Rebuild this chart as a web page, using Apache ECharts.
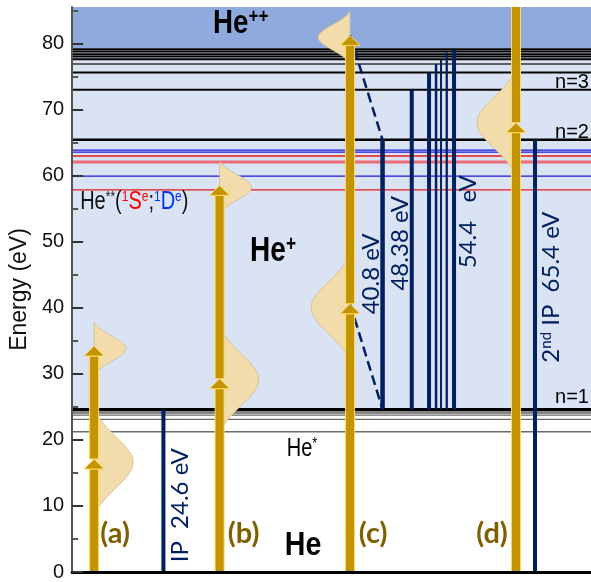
<!DOCTYPE html>
<html>
<head>
<meta charset="utf-8">
<script src="https://cdn.jsdelivr.net/npm/echarts@6/dist/echarts.min.js"></script>
<style>
  html, body { margin: 0; padding: 0; background: #fff; }
  #chart { width: 591px; height: 582px; }
</style>
</head>
<body>
<div id="chart"></div>
<script>
// ---- Energy data (eV, measured from the He ground state) ----
const energyTicks = [0, 10, 20, 30, 40, 50, 60, 70, 80];
// He* singly excited 1P levels below the first ionisation threshold
const heStarLevels = [21.22, 23.09, 23.74, 24.05, 24.21];
// He+ (n) thresholds, converging on the He++ limit
const hePlusLevels = [24.6, 65.4, 72.98, 75.6, 76.86, 77.6, 78.0, 78.35, 78.75, 79.1];
// Doubly excited He** resonances: 1Se (red) and 1De (blue)
const resonanceS = [57.84, 62.06, 62.95];
const resonanceD = [59.9, 63.55, 63.85];
// Onset of the He++ continuum
const doubleIonisation = 79.3;
// Vertical transitions: lower and upper energies
const transitionFrom = [0, 24.6, 24.6, 24.6, 24.6, 24.6, 24.6, 24.6, 0];
const transitionTo   = [24.6, 65.4, 72.98, 75.6, 76.86, 77.47, 78.6, 79.0, 65.4];
// Excitation schemes (a)-(d): photon energy and spectral profile centres
const schemeNames = ['(a)', '(b)', '(c)', '(d)'];
const photonEnergy = [17.1, 29.25, 40.6, 68.0];
const oneHarmonicCentre = [16.6, 29.1, 40.0, 68.0];
const twoHarmonicCentre = [33.8, 58.2, 80.9];
const oneHarmonicWidth = 3.9;
const twoHarmonicWidth = 1.9;

// ---- Layout of the diagram (horizontal units span the plot width) ----
const X_MAX = 519;
const Y_MAX = 85.5;
const schemeX = [22, 147.5, 278, 444];
const profileSide = [1, 1, -1, -1];
const profileAmp = [39, 32];
const transitionX = [91.3, 310.5, 339.7, 357, 364, 369, 374.7, 382, 463];
const transitionWidth = [4, 4.5, 4, 4, 2.5, 2, 2.3, 4, 4];

const GOLD = '#c39400', GOLD_EDGE = '#ffd966', NAVY = '#002060';
const SANS = "'Liberation Sans', Arial, sans-serif";
const HUMAN = "Lato, 'Open Sans', sans-serif";

function hLine(api, e, color, width) {
  const a = api.coord([0, e]), b = api.coord([X_MAX, e]);
  return { type: 'line', shape: { x1: a[0], y1: a[1], x2: b[0], y2: b[1] },
           style: { stroke: color, lineWidth: width } };
}

function arrow(api, x, e0, e1) {
  const p0 = api.coord([x, e0]), p1 = api.coord([x, e1]);
  const headLen = 10, headHalf = 10, shaftHalf = 4.5;
  const yBase = p1[1] + headLen;
  const st = { fill: GOLD, stroke: GOLD_EDGE, lineWidth: 1 };
  return [
    { type: 'rect', shape: { x: p0[0] - shaftHalf, y: yBase, width: 2 * shaftHalf, height: p0[1] - yBase }, style: st },
    { type: 'polygon', shape: { points: [[p1[0] - headHalf, yBase], [p1[0], p1[1]], [p1[0] + headHalf, yBase]] }, style: st }
  ];
}

const profileData = [];
oneHarmonicCentre.forEach((c, i) => profileData.push([i, c, 1]));
twoHarmonicCentre.forEach((c, i) => profileData.push([i, c, 2]));

const option = {
  animation: false,
  grid: { left: 72, right: 0, top: 7, bottom: 5 },
  xAxis: {
    type: 'value', min: 0, max: X_MAX, z: 10,
    axisLine: { show: true, onZero: false, lineStyle: { color: '#000', width: 3 } },
    axisTick: { show: false }, axisLabel: { show: false }, splitLine: { show: false }
  },
  yAxis: {
    type: 'value', min: 0, max: Y_MAX, interval: 10, z: 10,
    name: 'Energy (eV)', nameLocation: 'middle', nameGap: 33, nameRotate: 90,
    nameTextStyle: { fontSize: 23, color: '#111', fontFamily: SANS },
    axisLine: { show: true, lineStyle: { color: '#555', width: 2 } },
    axisTick: { show: true, inside: true, length: 11, customValues: energyTicks,
                lineStyle: { color: '#333', width: 2 } },
    minorTick: { show: true, splitNumber: 2, length: 6, lineStyle: { color: '#555', width: 2 } },
    axisLabel: { customValues: energyTicks, fontSize: 20, color: '#111', margin: 8, fontFamily: SANS },
    splitLine: { show: false }
  },
  series: [
    { // bound He+ region and He++ continuum
      type: 'custom', name: 'regions', silent: true, z: 1,
      data: [[0, 0]],
      renderItem(params, api) {
        const a = api.coord([0, doubleIonisation]), b = api.coord([X_MAX, hePlusLevels[0]]);
        const c = api.coord([0, Y_MAX]);
        return { type: 'group', children: [
          { type: 'rect', shape: { x: a[0], y: a[1], width: b[0] - a[0], height: b[1] - a[1] }, style: { fill: '#dae3f3' } },
          { type: 'rect', shape: { x: c[0], y: c[1], width: b[0] - c[0], height: a[1] - c[1] }, style: { fill: '#8faadc' } }
        ] };
      }
    },
    { type: 'custom', name: 'He*', silent: true, z: 2,
      data: heStarLevels.map(e => [0, e]),
      renderItem: (p, api) => hLine(api, api.value(1), '#6a6a6a', 1.3) },
    { type: 'custom', name: '1Se', silent: true, z: 2,
      data: resonanceS.map(e => [0, e]),
      renderItem: (p, api) => p.dataIndex === 1 ? hLine(api, api.value(1), '#ee6b78', 3) : hLine(api, api.value(1), '#e41a1a', 1.3) },
    { type: 'custom', name: '1De', silent: true, z: 2,
      data: resonanceD.map(e => [0, e]),
      renderItem: (p, api) => hLine(api, api.value(1), '#1a1ae0', 1.3) },
    { type: 'custom', name: 'He+', silent: true, z: 2,
      data: hePlusLevels.map(e => [0, e]),
      renderItem: (p, api) => {
        const i = p.dataIndex;
        const w = i === 0 ? 3 : (i === 1 ? 2.5 : (i === 4 ? 1.5 : 2));
        return hLine(api, api.value(1), i === 4 ? '#333' : '#000', w);
      } },
    { // spectral profiles of the driving pulses
      type: 'custom', name: 'profiles', silent: true, z: 3,
      data: profileData,
      renderItem(p, api) {
        const i = api.value(0), centre = api.value(1), h = api.value(2);
        const sigma = h === 1 ? oneHarmonicWidth : twoHarmonicWidth;
        const amp = profileAmp[h - 1] * profileSide[i];
        const half = 2.1 * sigma;
        const g0 = Math.exp(-half * half / (2 * sigma * sigma));
        const pts = [];
        for (let k = 0; k <= 80; k++) {
          const e = centre - half + 2 * half * k / 80;
          const g = Math.exp(-(e - centre) * (e - centre) / (2 * sigma * sigma));
          pts.push(api.coord([schemeX[i] + amp * (g - g0) / (1 - g0), e]));
        }
        return { type: 'polygon', shape: { points: pts }, style: { fill: '#f2dcab', stroke: '#c9b48e', lineWidth: 0.7 } };
      } },
    { // ionisation / excitation transitions
      type: 'custom', name: 'transitions', silent: true, z: 4,
      data: transitionFrom.map((f, i) => [i, f, transitionTo[i]]),
      renderItem(p, api) {
        const i = api.value(0);
        const a = api.coord([transitionX[i], api.value(1)]), b = api.coord([transitionX[i], api.value(2)]);
        return { type: 'line', shape: { x1: a[0], y1: a[1], x2: b[0], y2: b[1] },
                 style: { stroke: NAVY, lineWidth: transitionWidth[i] } };
      } },
    { // energy-sharing connectors for scheme (c)
      type: 'custom', name: 'connectors', silent: true, z: 4,
      data: [[photonEnergy[2], transitionFrom[1]], [2 * photonEnergy[2], transitionTo[1]]],
      renderItem(p, api) {
        const a = api.coord([schemeX[2], api.value(0)]), b = api.coord([transitionX[1], api.value(1)]);
        return { type: 'line', shape: { x1: a[0], y1: a[1], x2: b[0], y2: b[1] },
                 style: { stroke: NAVY, lineWidth: 2.5, lineDash: [10, 5] } };
      } },
    { // photon arrows: one- and two-photon steps
      type: 'custom', name: 'photons', silent: true, z: 5, clip: true,
      data: photonEnergy.map((e, i) => [i, e]),
      renderItem(p, api) {
        const i = api.value(0), e = api.value(1), x = schemeX[i];
        return { type: 'group', children: arrow(api, x, 0, e).concat(arrow(api, x, e, 2 * e)) };
      } },
    { // text annotations
      type: 'custom', name: 'labels', silent: true, z: 6,
      data: [[0, 0]],
      renderItem(p, api) {
        const kids = [];
        const txt = (x, e, style, extra) => {
          const c = api.coord([x, e]);
          kids.push(Object.assign({ type: 'text', x: c[0], y: c[1], style }, extra || {}));
        };
        const labelX = [43, 171.5, 301, 420];
        schemeNames.forEach((s, i) => txt(labelX[i], 5.85, {
          text: s, fontFamily: HUMAN, fontWeight: 'bold', fontSize: 29, fill: '#7f6000',
          align: 'center', verticalAlign: 'middle' }));
        const narrow = { scaleX: 0.84 };
        const boldRich = (size) => ({
          h: { fontFamily: SANS, fontWeight: 'bold', fontSize: size, fill: '#000' },
          p: { fontFamily: SANS, fontWeight: 'bold', fontSize: size * 0.62, fill: '#000', verticalAlign: 'top' }
        });
        txt(141, 83.0, { text: '{h|He}{p|++}', rich: boldRich(33), align: 'left', verticalAlign: 'middle' }, narrow);
        txt(178, 48.45, { text: '{h|He}{p|+}', rich: boldRich(35), align: 'left', verticalAlign: 'middle' }, { scaleX: 0.8 });
        txt(231, 3.93, { text: 'He', fontFamily: SANS, fontWeight: 'bold', fontSize: 34, fill: '#000',
                         align: 'center', verticalAlign: 'middle' }, narrow);
        const thin = { scaleX: 0.8 };
        txt(214.7, 18.6, { text: '{n|He}{s|*}', align: 'left', verticalAlign: 'middle', rich: {
          n: { fontFamily: SANS, fontSize: 25, fill: '#000' },
          s: { fontFamily: SANS, fontSize: 16, fill: '#000', verticalAlign: 'top' } } }, thin);
        txt(8, 56.05, {
          text: '{n|He}{s|**}{n|(}{rs|1}{r|S}{rs|e}{n|;}{bs|1}{b|D}{bs|e}{n|)}',
          align: 'left', verticalAlign: 'middle', rich: {
            n: { fontFamily: SANS, fontSize: 25, fill: '#111' },
            s: { fontFamily: SANS, fontSize: 15, fill: '#111', verticalAlign: 'top' },
            r: { fontFamily: SANS, fontSize: 25, fill: '#ff0000' },
            rs: { fontFamily: SANS, fontSize: 15, fill: '#ff0000', verticalAlign: 'top' },
            b: { fontFamily: SANS, fontSize: 25, fill: '#0033ff' },
            bs: { fontFamily: SANS, fontSize: 15, fill: '#0033ff', verticalAlign: 'top' } } }, thin);
        // He+ principal quantum number labels
        const nLevel = [hePlusLevels[0], hePlusLevels[1], hePlusLevels[2]];
        const nShift = [-2, 3, 3];
        nLevel.forEach((e, k) => {
          const c = api.coord([483, e]);
          kids.push({ type: 'text', x: c[0], y: c[1] + nShift[k], style: {
            text: 'n=' + (k + 1), fontFamily: SANS, fontSize: 20, fill: '#000',
            align: 'left', verticalAlign: 'bottom' } });
        });
        // transition energies, written along the lines
        const rot = { rotation: Math.PI / 2 };
        const navy = (t) => ({ text: t, fontFamily: HUMAN, fontSize: 24, fill: NAVY,
                               align: 'center', verticalAlign: 'middle' });
        txt(108, 10.1, navy('IP  ' + transitionTo[0] + ' eV'), rot);
        txt(299.5, 45.1, navy((transitionTo[1] - transitionFrom[1]).toFixed(1) + ' eV'), rot);
        txt(328, 49.75, navy((transitionTo[2] - transitionFrom[2]).toFixed(2) + ' eV'), rot);
        txt(396, 53.0, navy((transitionTo[7] - transitionFrom[7]).toFixed(1) + '   eV'), rot);
        txt(479, 43.1, { text: '{t|2}{s|nd}{t| IP  ' + transitionTo[8] + ' eV}', align: 'center', verticalAlign: 'middle',
          rich: { t: { fontFamily: HUMAN, fontSize: 24, fill: NAVY },
                  s: { fontFamily: HUMAN, fontSize: 15, fill: NAVY, verticalAlign: 'top' } } }, rot);
        return { type: 'group', children: kids };
      } }
  ]
};

const chart = echarts.init(document.getElementById('chart'));
chart.setOption(option);
</script>
</body>
</html>
